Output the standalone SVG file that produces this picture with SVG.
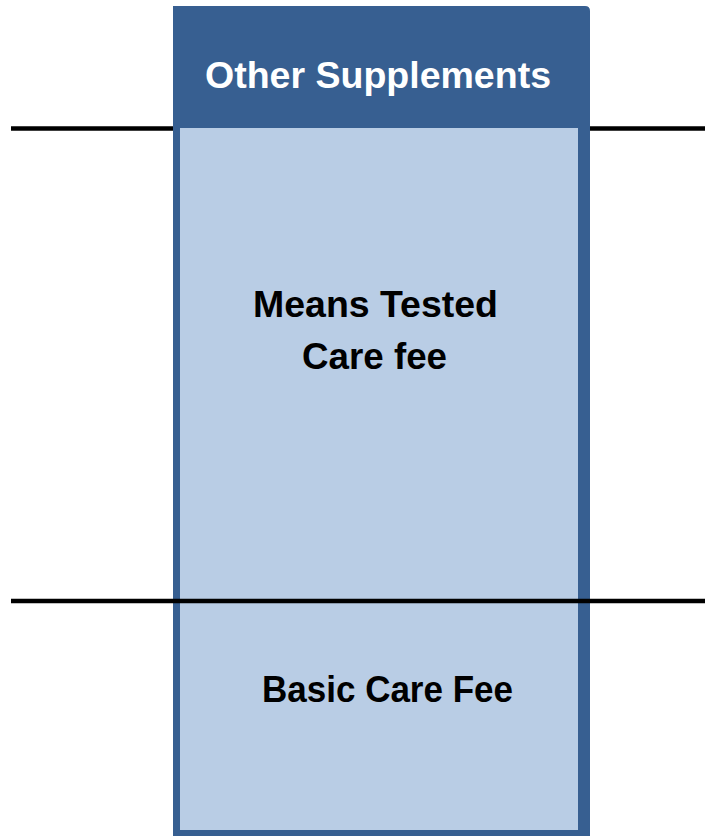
<svg xmlns="http://www.w3.org/2000/svg" width="705" height="836" viewBox="0 0 705 836">
  <style>
    .rule { stroke: #000; stroke-width: 4.5; fill: none; }
    .frame { fill: #375F91; }
    .panel { fill: #B9CDE5; }
    .label { font-family: "Liberation Sans", Arial, sans-serif; font-weight: bold; font-size: 37px; text-anchor: middle; }
    .dark { fill: #000; }
    .light { fill: #FFFFFF; }
  </style>
  <rect width="705" height="836" fill="#FFFFFF"/>

  <g id="connectors">
    <line class="rule" x1="11" y1="128.5" x2="174" y2="128.5"/>
    <line class="rule" x1="586" y1="128.5" x2="705" y2="128.5"/>
  </g>

  <g id="stack-frame">
    <path class="frame" d="M173 6 H585 Q590 6 590 11 V836 H173 Z"/>
  </g>

  <g id="other-supplements">
    <text class="label light" x="378" y="88" textLength="346" lengthAdjust="spacingAndGlyphs">Other Supplements</text>
  </g>

  <g id="means-tested-care-fee">
    <rect class="panel" x="180" y="128" width="398" height="471"/>
    <text class="label dark" x="375.5" y="317" textLength="245" lengthAdjust="spacingAndGlyphs">Means Tested</text>
    <text class="label dark" x="374.5" y="369" textLength="145" lengthAdjust="spacingAndGlyphs">Care fee</text>
  </g>

  <g id="basic-care-fee">
    <rect class="panel" x="180" y="603" width="398" height="227"/>
    <text class="label dark" x="387.5" y="702" textLength="251" lengthAdjust="spacingAndGlyphs">Basic Care Fee</text>
  </g>

  <g id="divider">
    <line class="rule" x1="11" y1="601" x2="705" y2="601"/>
  </g>
</svg>
